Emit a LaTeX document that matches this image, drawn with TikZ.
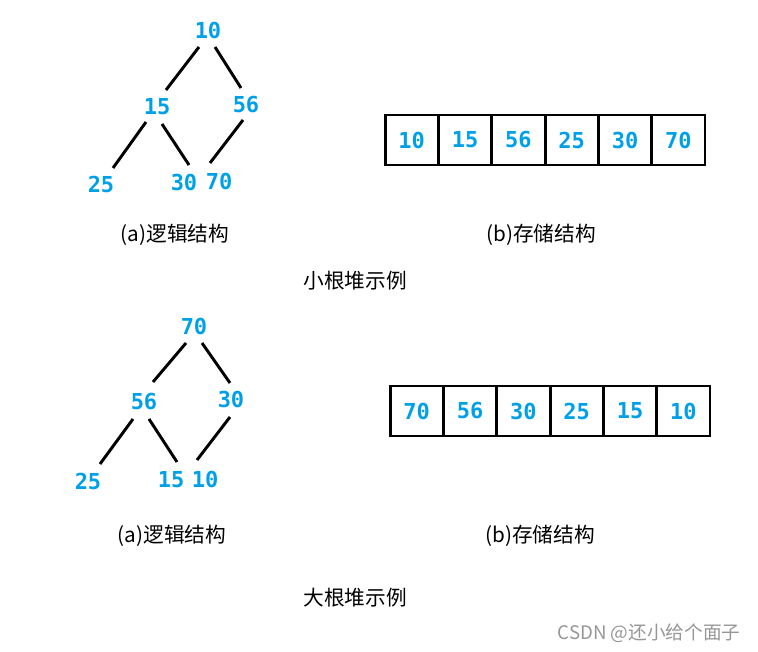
\documentclass[tikz,border=0pt]{standalone}
\usepackage{fontspec}
\usepackage{tikz}
\usetikzlibrary{positioning, calc}
\newfontfamily\numfont{DejaVu Sans Mono}
\newfontfamily\cjk{Noto Sans CJK SC}
\definecolor{heapBlue}{RGB}{0, 160, 233}
\definecolor{markGray}{RGB}{150, 150, 150}
\tikzset{
  key/.style={font=\numfont\bfseries\fontsize{16.5}{18}\selectfont, text=heapBlue, inner sep=2pt},
  cell/.style={key, draw=black, line width=2.2pt, minimum width=40pt, minimum height=37.5pt, inner sep=0pt},
  edge/.style={line width=2.2pt},
  caption/.style={font=\cjk\fontsize{15.5}{18}\selectfont}
}

\begin{document}
\begin{tikzpicture}[x=0.75pt, y=-0.75pt]
  \useasboundingbox (0,0) rectangle (758,652);

  % small heap: logical structure
  \node[key] (t10) at (208,30) {10};
  \node[key] (t15) at (157,107) {15};
  \node[key] (t56) at (246,105) {56};
  \node[key] (t25) at (101,184) {25};
  \node[key] (t30) at (184,182) {30};
  \node[key] (t70) at (219,181) {70};
  \draw[edge] ($(t10)+(-9,17)$) -- ($(t15)+(9,-17)$);
  \draw[edge] ($(t10)+(7,17)$) -- ($(t56)+(-5,-17)$);
  \draw[edge] ($(t15)+(-11,15)$) -- ($(t25)+(12,-16)$);
  \draw[edge] ($(t15)+(5,17)$) -- ($(t30)+(5,-17)$);
  \draw[edge] ($(t56)+(-3,15)$) -- ($(t70)+(-9,-18)$);

  % small heap: storage
  \node[cell] (s1) at (411.7,140) {10};
  \node[cell] (s2) at (465,140) {15};
  \node[cell] (s3) at (518.3,140) {56};
  \node[cell] (s4) at (571.7,140) {25};
  \node[cell] (s5) at (625,140) {30};
  \node[cell] (s6) at (678.3,140) {70};

  \node[caption] (capA) at (175,235) {(a)逻辑结构};
  \node[caption] (capB) at (541,235) {(b)存储结构};
  \node[caption] (title1) at (355,281) {小根堆示例};

  % big heap: logical structure
  \node[key] (u70) at (194,326) {70};
  \node[key] (u56) at (144,402) {56};
  \node[key] (u30) at (231,399) {30};
  \node[key] (u25) at (88,481) {25};
  \node[key] (u15) at (171,480) {15};
  \node[key] (u10) at (205,479) {10};
  \draw[edge] ($(u70)+(-8,17)$) -- ($(u56)+(9,-20)$);
  \draw[edge] ($(u70)+(8,17)$) -- ($(u30)+(-1,-16)$);
  \draw[edge] ($(u56)+(-11,17)$) -- ($(u25)+(12,-17)$);
  \draw[edge] ($(u56)+(5,17)$) -- ($(u15)+(6,-18)$);
  \draw[edge] ($(u30)+(-1,18)$) -- ($(u10)+(-8,-19)$);

  % big heap: storage
  \node[cell] (b1) at (416.7,411) {70};
  \node[cell] (b2) at (470,411) {56};
  \node[cell] (b3) at (523.3,411) {30};
  \node[cell] (b4) at (576.7,411) {25};
  \node[cell] (b5) at (630,411) {15};
  \node[cell] (b6) at (683.3,411) {10};

  \node[caption] (capC) at (172,536) {(a)逻辑结构};
  \node[caption] (capD) at (540,536) {(b)存储结构};
  \node[caption] (title2) at (355,598) {大根堆示例};

  \node[font=\cjk\fontsize{14}{16}\selectfont, text=markGray] (mark) at (649,633) {CSDN @还小给个面子};
\end{tikzpicture}
\end{document}
